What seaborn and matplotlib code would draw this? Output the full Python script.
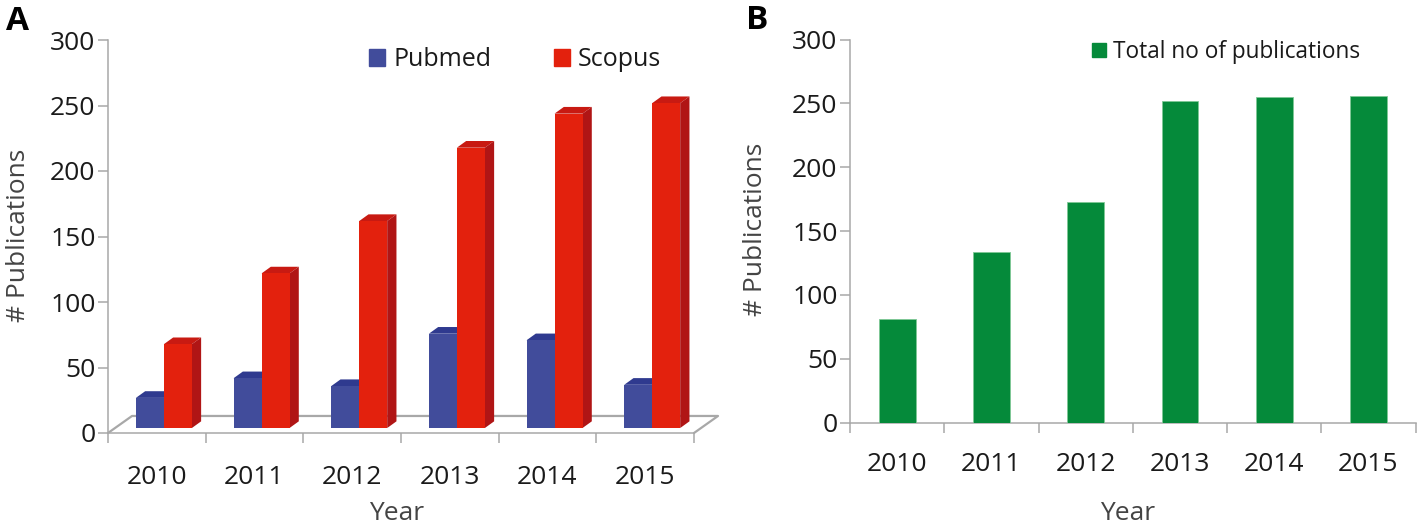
import matplotlib
matplotlib.use('Agg')
import matplotlib.pyplot as plt
from matplotlib.patches import Patch, Polygon
import pandas as pd
import seaborn as sns

# dados
anos = ['2010', '2011', '2012', '2013', '2014', '2015']
pubmed = [23, 38, 32, 72, 67, 33]
scopus = [64, 118, 158, 214, 240, 248]
total = [81, 134, 173, 252, 255, 256]
y_ticks = [0, 50, 100, 150, 200, 250, 300]

W, H = 1417, 524
CINZA = '#a8a8a8'
TEXTO = '#1a1a1a'

sns.set_theme(style='ticks')
plt.rcParams['font.family'] = ['Open Sans', 'DejaVu Sans']


def eixo_px(fig, x0, x1, y_top, y_bot):
    return fig.add_axes([x0 / W, 1 - y_bot / H, (x1 - x0) / W, (y_bot - y_top) / H])


def estilo(ax, tick_pad):
    sns.despine(ax=ax)
    for s in ['left', 'bottom']:
        ax.spines[s].set_color(CINZA)
        ax.spines[s].set_linewidth(1.1)
    ax.set_ylim(0, 300)
    ax.set_yticks(y_ticks)
    ax.set_xticks(range(len(anos)))
    ax.set_xticklabels(anos)
    # ticks do eixo x ficam entre as categorias
    ax.set_xticks([i - 0.5 for i in range(len(anos) + 1)], minor=True)
    ax.tick_params(axis='x', which='major', length=0, pad=tick_pad, labelsize=19, labelcolor=TEXTO)
    ax.tick_params(axis='x', which='minor', length=7, width=1.1, color=CINZA)
    ax.tick_params(axis='y', length=7, width=1.1, color=CINZA, pad=2, labelsize=19, labelcolor=TEXTO)


def rotulos(ax, x_px, y_px, ylab_x, ylab_y):
    ax.set_xlabel('Year', fontsize=19, color='#444444', va='center')
    ax.xaxis.set_label_coords(x_px / W, 1 - y_px / H, transform=fig.transFigure)
    ax.set_ylabel('# Publications', fontsize=19, color='#444444', va='center')
    ax.yaxis.set_label_coords(ylab_x / W, 1 - ylab_y / H, transform=fig.transFigure)


fig = plt.figure(figsize=(W / 100, H / 100), dpi=100)
fig.patch.set_facecolor('white')

# Painel A
ax_a = eixo_px(fig, 108, 694, 40, 433)
df_a = pd.DataFrame({
    'ano': anos * 2,
    'fonte': ['Pubmed'] * 6 + ['Scopus'] * 6,
    'valor': pubmed + scopus,
})
sns.barplot(data=df_a, x='ano', y='valor', hue='fonte', order=anos, ax=ax_a, width=0.573,
            palette={'Pubmed': '#414c9b', 'Scopus': '#e3210d'}, saturation=1, legend=False,
            linewidth=0, zorder=3)
estilo(ax_a, 23)
ax_a.set_xlim(-0.5, 5.5)

# efeito 3D: deslocamento das barras e faces lateral/superior
desloc_x = 0.072
base = 3.8
prof_x = 0.095
prof_y = 5.1
cores_topo = {'#414c9b': '#2f3a8f', '#e3210d': '#c81a12'}
cores_lado = {'#414c9b': '#2f3a8f', '#e3210d': '#b01515'}
for p in ax_a.patches:
    p.set_x(p.get_x() + desloc_x)
    p.set_y(base)
    x0, x1 = p.get_x(), p.get_x() + p.get_width()
    y0, y1 = base, base + p.get_height()
    cor = matplotlib.colors.to_hex(p.get_facecolor())
    ax_a.add_patch(Polygon([(x0, y1), (x1, y1), (x1 + prof_x, y1 + prof_y), (x0 + prof_x, y1 + prof_y)],
                           fc=cores_topo[cor], lw=0, zorder=2))
    ax_a.add_patch(Polygon([(x1, y0), (x1 + prof_x, y0 + prof_y), (x1 + prof_x, y1 + prof_y), (x1, y1)],
                           fc=cores_lado[cor], lw=0, zorder=2))

# piso do grafico
piso_x = 0.246
piso_y = 13
ax_a.plot([-0.5, -0.5 + piso_x, 5.5 + piso_x, 5.5], [0, piso_y, piso_y, 0], color=CINZA, lw=1.6,
          clip_on=False, zorder=1)

leg_a = ax_a.legend(handles=[Patch(color='#414c9b', label='Pubmed'), Patch(color='#e3210d', label='Scopus')],
                    ncol=2, frameon=False, loc='center left', bbox_to_anchor=(369 / W, 1 - 60 / H),
                    bbox_transform=fig.transFigure, fontsize=18, handlelength=0.64, handleheight=0.64,
                    handletextpad=0.32, columnspacing=2.5, borderpad=0, borderaxespad=0)
for t in leg_a.get_texts():
    t.set_color(TEXTO)

rotulos(ax_a, 397, 514, 19, 235)

# Painel B
ax_b = eixo_px(fig, 850, 1415.6, 39.5, 422.7)
df_b = pd.DataFrame({'ano': anos, 'valor': total, 'serie': ['Total no of publications'] * 6})
sns.barplot(data=df_b, x='ano', y='valor', order=anos, color='#058a3a', saturation=1, ax=ax_b,
            width=0.39, edgecolor='#7fc896', linewidth=0.6, zorder=3)
estilo(ax_b, 21)
ax_b.set_xlim(-0.5, 5.5)

leg_b = ax_b.legend(handles=[Patch(color='#058a3a', label='Total no of publications')],
                    frameon=False, loc='center left', bbox_to_anchor=(1092 / W, 1 - 52 / H),
                    bbox_transform=fig.transFigure, fontsize=16.3, handlelength=0.63, handleheight=0.6,
                    handletextpad=0.29, borderpad=0, borderaxespad=0)
for t in leg_b.get_texts():
    t.set_color(TEXTO)

rotulos(ax_b, 1128, 514, 755, 229)

# letras dos paineis
fig.text(6 / W, 1 - 30 / H, 'A', fontsize=24, fontweight='bold', color='black')
fig.text(746 / W, 1 - 29 / H, 'B', fontsize=24, fontweight='bold', color='black')

fig.savefig('out.png', dpi=100)
